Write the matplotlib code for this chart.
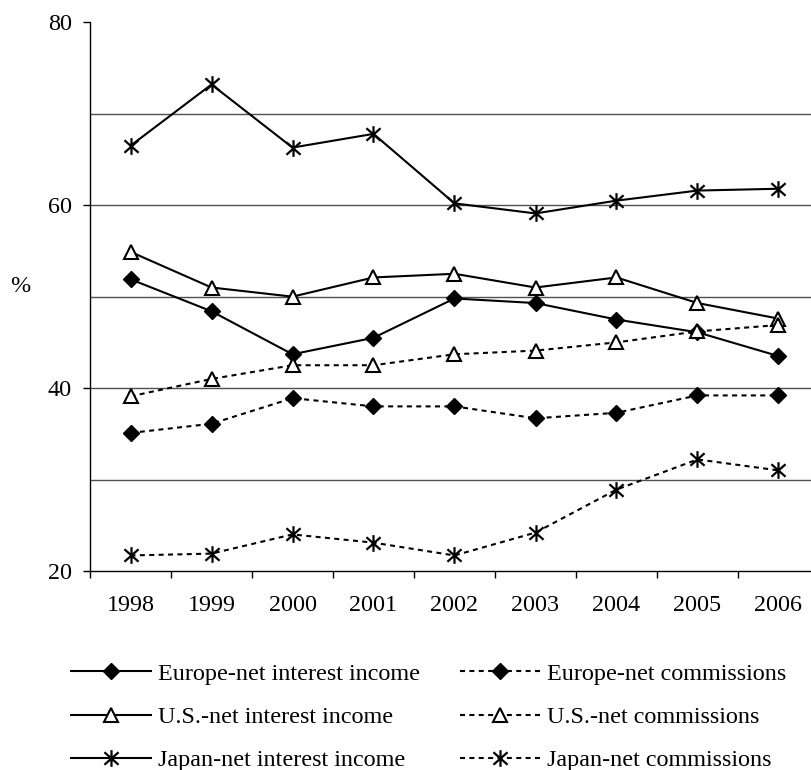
import numpy as np
import matplotlib
matplotlib.use("Agg")
from matplotlib import pyplot as plt
from matplotlib.path import Path

plt.rcParams['font.family'] = ['Liberation Serif', 'DejaVu Serif']

years = ['1998', '1999', '2000', '2001', '2002', '2003', '2004', '2005', '2006']

europe_interest = [51.9, 48.4, 43.7, 45.5, 49.8, 49.3, 47.5, 46.1, 43.5]
us_interest = [54.9, 51.0, 50.0, 52.1, 52.5, 51.0, 52.1, 49.3, 47.6]
japan_interest = [66.5, 73.2, 66.3, 67.8, 60.2, 59.1, 60.5, 61.6, 61.8]

europe_commissions = [35.1, 36.1, 38.9, 38.0, 38.0, 36.7, 37.3, 39.2, 39.2]
us_commissions = [39.1, 41.0, 42.5, 42.5, 43.7, 44.1, 45.0, 46.2, 46.9]
japan_commissions = [21.7, 21.9, 24.0, 23.1, 21.7, 24.2, 28.9, 32.2, 31.0]

# asterisk marker: vertical bar plus a cross
star = Path([(0, -1), (0, 1), (-0.85, -0.75), (0.85, 0.75), (-0.85, 0.75), (0.85, -0.75)],
            [Path.MOVETO, Path.LINETO, Path.MOVETO, Path.LINETO, Path.MOVETO, Path.LINETO])

W, H, DPI = 811, 770, 100
fig = plt.figure(figsize=(W / DPI, H / DPI), dpi=DPI)
ax = fig.add_axes([90 / W, 1 - 571 / H, 729 / W, (571 - 22.3) / H])

x = np.arange(len(years))
lw = 1.5
dots = (2.4, 2.1)

diamond = dict(marker='D', markersize=8.3, markerfacecolor='black', markeredgecolor='black')
triangle = dict(marker='^', markersize=10, markerfacecolor='white', markeredgecolor='black',
                markeredgewidth=1.5)
asterisk = dict(marker=star, markersize=12, markerfacecolor='none', markeredgecolor='black',
                markeredgewidth=1.6)

l1, = ax.plot(x, europe_interest, color='black', lw=lw, label='Europe-net interest income', **diamond)
l2, = ax.plot(x, us_interest, color='black', lw=lw, label='U.S.-net interest income', **triangle)
l3, = ax.plot(x, japan_interest, color='black', lw=lw, label='Japan-net interest income', **asterisk)
l4, = ax.plot(x, europe_commissions, color='black', lw=lw, dashes=dots,
              label='Europe-net commissions', **diamond)
l5, = ax.plot(x, us_commissions, color='black', lw=lw, dashes=dots,
              label='U.S.-net commissions', **triangle)
l6, = ax.plot(x, japan_commissions, color='black', lw=lw, dashes=dots,
              label='Japan-net commissions', **asterisk)

ax.set_xlim(-0.5, len(years) - 0.5)
ax.set_ylim(20, 80)

# horizontal gridlines every 10, labels every 20
for g in range(30, 80, 10):
    ax.axhline(g, color='#505050', lw=1.0, zorder=0)

ax.set_yticks([20, 40, 60, 80])
ax.set_yticklabels(['20', '40', '60', '80'])
ax.set_xticks(x)
ax.set_xticklabels(years)
ax.set_xticks(np.arange(-0.5, len(years), 1.0), minor=True)
ax.tick_params(axis='x', which='major', length=0, pad=17, labelsize=17.4)
ax.tick_params(axis='x', which='minor', length=5, width=1, direction='out')
ax.tick_params(axis='y', length=5, width=1, direction='out', pad=8, labelsize=17.4)

for s in ['top', 'right']:
    ax.spines[s].set_visible(False)
for s in ['left', 'bottom']:
    ax.spines[s].set_linewidth(1.0)
    ax.spines[s].set_color('black')

ax.set_ylabel('%', rotation=0, fontsize=17.4, labelpad=0)
ax.yaxis.set_label_coords(-70 / 729, 0.5)

fig.legend(handles=[l1, l2, l3, l4, l5, l6], loc='upper left',
           bbox_to_anchor=(71 / W, 1 - 663 / H), ncol=2, frameon=False,
           fontsize=17.4, handlelength=3.3, handletextpad=0.3, columnspacing=1.65,
           labelspacing=0.88, borderpad=0, borderaxespad=0)

fig.savefig('out.png', dpi=DPI)
